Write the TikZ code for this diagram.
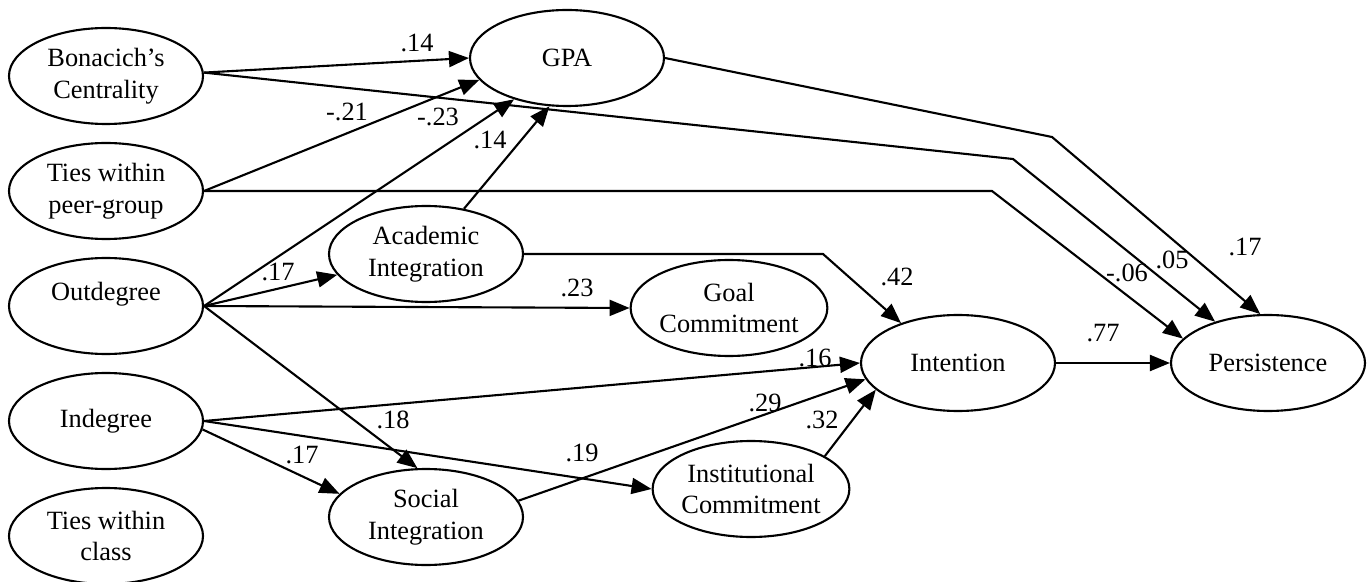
\documentclass[tikz,border=0pt]{standalone}
\usepackage{fontspec}
\setmainfont{Liberation Serif}
\usetikzlibrary{shapes.geometric,arrows.meta}

\begin{document}
\begin{tikzpicture}[
  var/.style={draw,ellipse,line width=1.2pt,minimum width=3.88cm,minimum height=1.92cm,
    inner sep=0pt,align=center,font=\fontsize{15}{18}\selectfont},
  eff/.style={line width=1.2pt,-{Triangle[length=4mm,width=3.2mm]}},
  wt/.style={font=\fontsize{15}{18}\selectfont,inner sep=1pt}]
\useasboundingbox (0,0) rectangle (27.4,-11.64);
% network measures
\node[var] (bon) at (2.12,-1.52) {Bonacich’s\\Centrality};
\node[var] (tpeer) at (2.12,-3.82) {Ties within\\peer-group};
\node[var,text depth=0.6cm] (outd) at (2.12,-6.12) {Outdegree};
\node[var] (ind) at (2.12,-8.42) {Indegree};
\node[var] (tclass) at (2.12,-10.72) {Ties within\\class};
% outcomes
\node[var] (gpa) at (11.34,-1.16) {GPA};
\node[var] (acad) at (8.52,-5.08) {Academic\\Integration};
\node[var] (goal) at (14.58,-6.16) {Goal\\Commitment};
\node[var] (social) at (8.52,-10.34) {Social\\Integration};
\node[var] (inst) at (15.02,-9.78) {Institutional\\Commitment};
\node[var] (intent) at (19.16,-7.26) {Intention};
\node[var] (pers) at (25.36,-7.26) {Persistence};
% bends
\coordinate (kgpa) at (21.04,-2.74);
\coordinate (kbon) at (20.26,-3.18);
\coordinate (kpeer) at (19.84,-3.82);
\coordinate (kacad) at (16.46,-5.08);
% paths
\draw[eff] (bon.2) -- (gpa.west);
\draw[eff] (bon.2) -- (kbon) -- (pers.142);
\draw[eff] (gpa.east) -- (kgpa) -- (pers.99);
\draw[eff] (tpeer.east) -- (gpa.194);
\draw[eff] (tpeer.east) -- (kpeer) -- (pers.164);
\draw[eff] (outd.east) -- (gpa.218);
\draw[eff] (outd.east) -- (acad);
\draw[eff] (outd.east) -- (goal.west);
\draw[eff] (outd.east) -- (social.100);
\draw[eff] (acad.50) -- (gpa.250);
\draw[eff] (acad.east) -- (kacad) -- (intent.145);
\draw[eff] (ind.east) -- (intent.west);
\draw[eff] (ind.-5) -- (social.165);
\draw[eff] (ind.east) -- (inst.west);
\draw[eff] (social.10) -- (intent.190);
\draw[eff] (inst.24) -- (intent.198);
\draw[eff] (intent.east) -- (pers.west);
% coefficients
\foreach \x/\y/\w [count=\i] in {8.34/0.86/.14, 6.94/2.24/-.21, 8.76/2.34/-.23, 9.8/2.8/.14,
    5.56/5.44/.17, 11.54/5.76/.23, 7.86/8.4/.18, 6.04/9.1/.17, 11.64/9.06/.19,
    17.94/5.54/.42, 16.3/7.16/.16, 15.3/8.06/.29, 16.44/8.4/.32,
    22.54/5.46/-.06, 23.44/5.2/.05, 24.9/4.94/.17, 22.06/6.66/.77}
  \node[wt] (w\i) at (\x,-\y) {\w};
\end{tikzpicture}
\end{document}
